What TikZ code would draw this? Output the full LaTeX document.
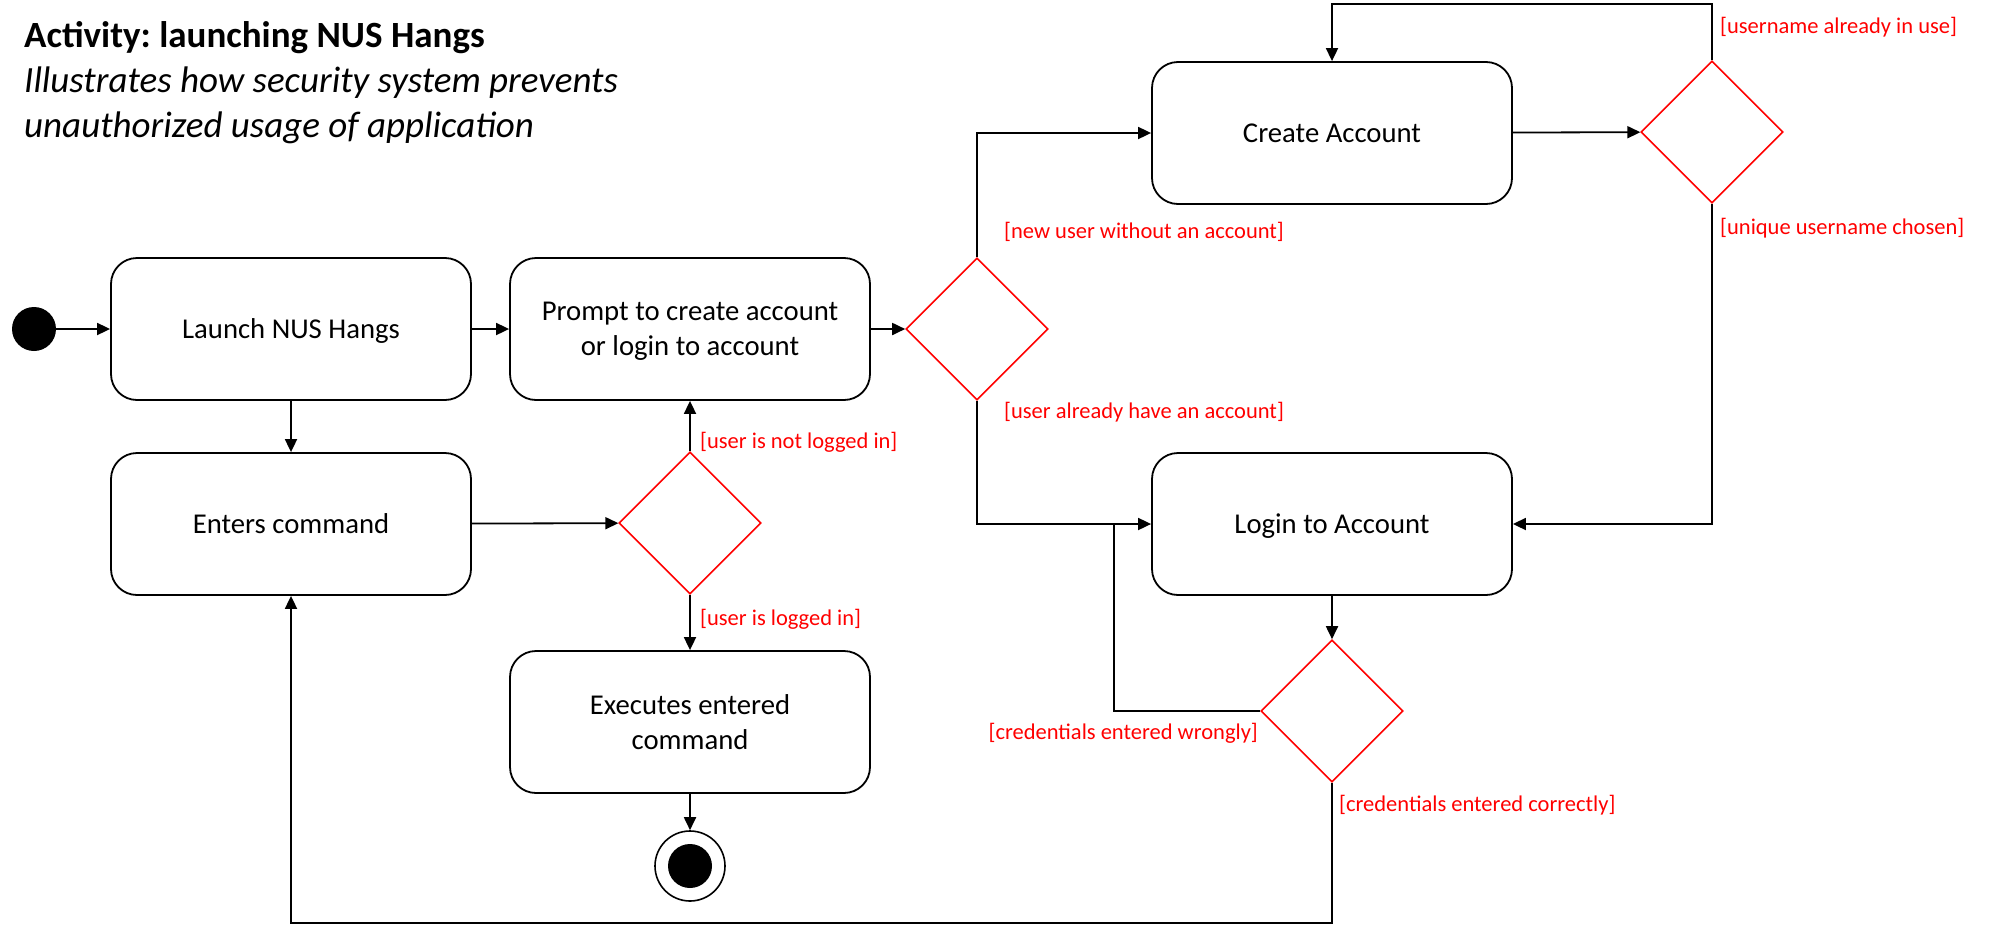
\documentclass[tikz,border=0pt]{standalone}
\usepackage{fontspec}
\setmainfont{Carlito}
\usetikzlibrary{arrows.meta,shapes.geometric}
\frenchspacing
\newcommand\boxfont{\fontsize{28.7}{35}\selectfont}
\newcommand\guardfont{\fontsize{22.5}{27}\selectfont}
\newcommand\headfont{\fontsize{37}{45}\selectfont}
\tikzstyle{activity}=[draw,rounded corners=26pt,minimum width=360pt,minimum height=142pt,line width=1.8pt,align=center,font=\boxfont,text depth=0pt]
\tikzstyle{decision}=[draw=red,diamond,minimum width=142pt,minimum height=142pt,inner sep=0pt,line width=1.6pt]
\tikzstyle{startdot}=[circle,fill=black,minimum size=44pt,inner sep=0pt]
\tikzstyle{endring}=[circle,draw,line width=1.6pt,minimum size=70pt,inner sep=0pt]
\tikzstyle{flow}=[draw,line width=1.8pt,-{Triangle[length=13pt,width=12pt]}]
\tikzstyle{flowline}=[draw,line width=1.8pt]
\tikzstyle{guard}=[text=red,font=\guardfont,inner sep=0pt]

\begin{document}
\begin{tikzpicture}[x=1pt,y=-1pt]
    \useasboundingbox (0,0) rectangle (1993,926);
    % Title and description
    \node[anchor=base west,inner sep=0pt,font=\headfont\bfseries] (title) at (24,47) {Activity: launching NUS Hangs};
    \node[anchor=base west,inner sep=0pt,font=\headfont\itshape] (desc1) at (24,92) {Illustrates how security system prevents};
    \node[anchor=base west,inner sep=0pt,font=\headfont\itshape] (desc2) at (24,137) {unauthorized usage of application};

    % First we draw the activities
    \foreach \pos/\name/\text in {{(291,329)/launch/Launch NUS Hangs}, {(690,329)/prompt/Prompt to create account\\or login to account},
        {(291,524)/enter/Enters command}, {(690,722)/exec/Executes entered\\command},
        {(1332,133)/create/Create Account}, {(1332,524)/login/Login to Account}}
        \node[activity] (\name) at \pos {\text};

    % then the decisions
    \foreach \pos/\name in {{(977,329)/dec1}, {(1712,132)/dec2}, {(690,523)/dec4}}
        \node[decision] (\name) at \pos {};
    \node[decision,minimum width=142pt] (dec3) at (1332,711) {};

    % start and end
    \node[startdot] (start) at (34,329) {};
    \node[endring] (end) at (690,866) {};
    \node[startdot] (enddot) at (end) {};

    \coordinate (createtop) at (1712,4);
    \coordinate (wrongjoin) at (1114,524);
    \coordinate (lowright) at (1332,923);

    % Connect with flows
    \path[flow] (start) -- (launch);
    \path[flow] (launch) -- (prompt);
    \path[flow] (launch) -- (enter);
    \path[flow] (prompt) -- (dec1);
    \path[flow] (enter) -- (dec4);
    \path[flow] (dec4) -- (prompt);
    \path[flow] (dec4) -- (exec);
    \path[flow] (exec) -- (end);
    \path[flow] (dec1.north) |- (create.west);
    \path[flow] (dec1.south) |- (login.west);
    \path[flow] (create) -- (dec2);
    \path[flow] (dec2.north) -- (createtop) -| (create.north);
    \path[flow] (dec2.south) |- (login.east);
    \path[flow] (login) -- (dec3);
    \path[flowline] (dec3.west) -| (wrongjoin);
    \path[flow] (dec3.south) -- (lowright) -| (enter.south);

    % Guards
    \node[guard,anchor=west] (gnew) at (1004,232) {[new user without an account]};
    \node[guard,anchor=west] (ghave) at (1004,412) {[user already have an account]};
    \node[guard,anchor=west] (gnotin) at (700,442) {[user is not logged in]};
    \node[guard,anchor=west] (gin) at (700,619) {[user is logged in]};
    \node[guard,anchor=west] (ginuse) at (1720,27) {[username already in use]};
    \node[guard,anchor=west] (gunique) at (1720,228) {[unique username chosen]};
    \node[guard,anchor=east] (gwrong) at (1258,733) {[credentials entered wrongly]};
    \node[guard,anchor=west] (gright) at (1339,805) {[credentials entered correctly]};
\end{tikzpicture}
\end{document}
